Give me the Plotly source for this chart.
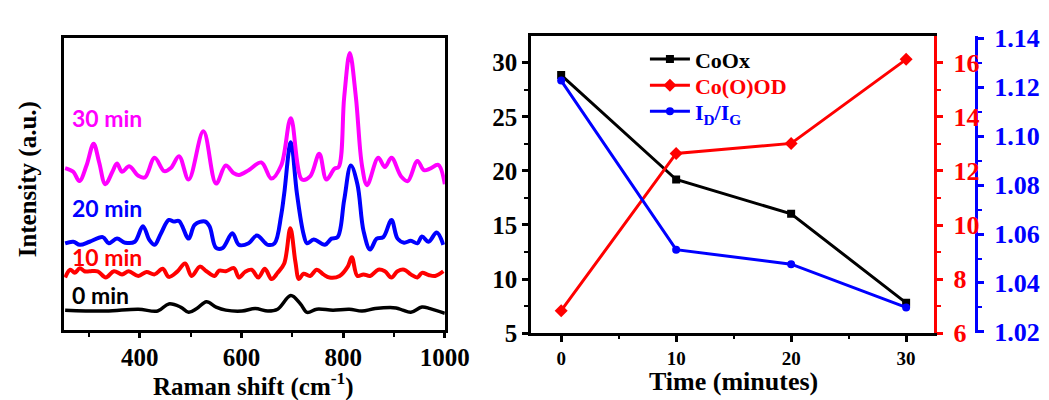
import plotly.graph_objects as go

# ---------------- Raman spectra (left panel) ----------------
raman_labels = ["0 min", "10 min", "20 min", "30 min"]
raman_colors = ["#000000", "#FF0000", "#0000FF", "#FF00FF"]

x_0min = [253, 333, 397, 435, 457, 480, 496, 512, 531, 550, 569, 601, 627, 652, 671, 697, 716, 729,
          748, 780, 812, 837, 863, 904, 917, 933, 955, 971, 1000]
y_0min = [6.5, 6.2, 6.8, 6.2, 8.5, 7.5, 5.8, 7.0, 9.2, 7.5, 6.5, 6.2, 7.0, 6.2, 6.8, 11.2, 8.5, 5.8,
          6.8, 6.5, 6.8, 6.2, 7.0, 7.2, 6.5, 5.8, 7.5, 7.0, 5.5]

x_10min = [253, 263, 272, 282, 291, 301, 317, 333, 349, 365, 378, 397, 413, 429, 445, 457, 473, 489,
           502, 518, 531, 547, 556, 569, 585, 595, 607, 620, 633, 646, 659, 671, 684, 696, 706, 713,
           722, 735, 748, 761, 773, 793, 809, 817, 828, 840, 853, 869, 882, 895, 907, 920, 933, 946,
           955, 968, 981, 997]
y_10min = [17.0, 19.5, 18.5, 20.0, 19.0, 19.0, 19.0, 17.0, 19.0, 18.0, 19.0, 17.5, 18.8, 18.0, 19.8,
           17.2, 18.8, 21.5, 17.5, 20.5, 19.0, 17.5, 19.2, 19.0, 20.0, 17.0, 18.8, 19.5, 17.0, 19.8,
           16.5, 18.5, 21.5, 32.8, 22.0, 16.5, 18.2, 17.5, 19.5, 18.0, 17.0, 17.5, 20.5, 23.5, 17.5,
           18.0, 17.5, 19.5, 19.0, 17.0, 19.0, 19.5, 18.0, 17.0, 18.5, 17.8, 17.5, 19.0]

x_20min = [253, 269, 282, 301, 327, 339, 355, 371, 390, 406, 419, 429, 441, 457, 467, 477, 496, 508,
           528, 537, 550, 563, 582, 595, 614, 630, 652, 665, 678, 684, 697, 709, 722, 729, 742, 764,
           777, 789, 802, 815, 828, 840, 853, 866, 879, 895, 907, 920, 933, 946, 955, 968, 984, 997]
y_20min = [28.0, 28.5, 27.5, 28.5, 30.0, 28.0, 29.5, 28.2, 28.5, 33.5, 29.0, 27.5, 31.0, 35.5, 35.0,
           35.2, 29.5, 34.0, 35.0, 33.5, 26.5, 26.5, 31.2, 27.5, 28.0, 30.5, 27.5, 28.0, 37.0, 44.0,
           60.5, 44.0, 31.0, 28.0, 29.2, 27.5, 29.5, 30.0, 42.0, 53.0, 47.0, 32.0, 26.0, 29.5, 30.0,
           35.5, 29.5, 28.2, 28.8, 28.0, 30.2, 28.5, 31.5, 27.5]

x_30min = [253, 269, 281, 295, 309, 320, 332, 346, 355, 365, 379, 397, 410, 429, 448, 461, 477, 496,
           525, 550, 569, 585, 595, 614, 639, 659, 678, 697, 719, 735, 753, 767, 783, 791, 802, 813,
           825, 837, 847, 869, 882, 895, 914, 927, 946, 959, 971, 987, 1000]
y_30min = [52.2, 51.0, 48.0, 53.0, 60.0, 54.0, 47.0, 51.0, 53.7, 51.0, 52.8, 49.7, 49.2, 55.5, 51.2,
           52.2, 56.0, 48.5, 64.0, 47.2, 53.0, 50.5, 50.0, 51.5, 54.0, 48.8, 53.0, 68.2, 48.5, 49.5,
           56.8, 48.5, 52.0, 52.5, 75.0, 89.2, 75.0, 53.0, 46.7, 55.5, 52.5, 55.5, 49.5, 48.0, 54.5,
           51.5, 52.0, 53.2, 47.0]

raman_x = [x_0min, x_10min, x_20min, x_30min]
raman_y = [y_0min, y_10min, y_20min, y_30min]

# ---------------- Time series (right panel) ----------------
time_min = [0, 10, 20, 30]
coox = [28.85, 19.2, 16.03, 7.8]
coood = [6.83, 12.65, 13.02, 16.13]
id_ig = [1.1227, 1.0536, 1.0477, 1.0300]

SERIF = "Liberation Serif"
fig = go.Figure()

for xs, ys, col, lab in zip(raman_x, raman_y, raman_colors, raman_labels):
    fig.add_trace(go.Scatter(x=xs, y=ys, mode="lines",
                             line=dict(color=col, width=3.5 if col == "#000000" else 4, shape="spline", smoothing=1.0),
                             xaxis="x", yaxis="y", showlegend=False, name=lab))

fig.add_trace(go.Scatter(x=time_min, y=coox, mode="lines+markers", name="CoOx", legend="legend",
                         line=dict(color="#000000", width=3), marker=dict(symbol="square", size=8, color="#000000"),
                         xaxis="x2", yaxis="y2"))
fig.add_trace(go.Scatter(x=time_min, y=coood, mode="lines+markers", name="Co(O)OD", legend="legend2",
                         line=dict(color="#FF0000", width=3), marker=dict(symbol="diamond", size=10, color="#FF0000"),
                         xaxis="x2", yaxis="y3"))
fig.add_trace(go.Scatter(x=time_min, y=id_ig, mode="lines+markers", name="I<sub>D</sub>/I<sub>G</sub>",
                         legend="legend3",
                         line=dict(color="#0000FF", width=3), marker=dict(symbol="circle", size=8, color="#0000FF"),
                         xaxis="x2", yaxis="y4"))

tickfont_big = dict(family=SERIF, size=25, color="#000000", weight="bold")


def leg(ypx, col):
    return dict(x=0.622, y=1 - ypx / 400, xanchor="left", yanchor="middle", bgcolor="rgba(0,0,0,0)",
                font=dict(family=SERIF, size=22, color=col, weight="bold"), itemwidth=40)


fig.update_layout(
    width=1049, height=400,
    margin=dict(l=0, r=0, t=0, b=0),
    paper_bgcolor="white", plot_bgcolor="white",
    showlegend=True,
    legend=leg(43, "#000000"),
    legend2=leg(71, "#FF0000"),
    legend3=leg(99, "#0000FF"),
    xaxis=dict(domain=[0.0548, 0.4266], range=[251, 1000], anchor="y",
               showline=True, linecolor="black", linewidth=3, mirror=True,
               showgrid=False, zeroline=False,
               tickmode="array", tickvals=[400, 600, 800, 1000], ticks="outside", ticklen=5, tickwidth=2.5,
               tickcolor="black", tickfont=tickfont_big, ticklabelstandoff=-2,
               minor=dict(tickvals=[300, 500, 700, 900], ticks="outside", ticklen=4, tickwidth=2, tickcolor="black")),
    yaxis=dict(domain=[0.1675, 0.949], range=[0, 94], anchor="x",
               showline=True, linecolor="black", linewidth=3, mirror=True,
               showgrid=False, zeroline=False, showticklabels=False, ticks=""),
    xaxis2=dict(domain=[0.511, 0.9047], range=[-2.6, 32.46], anchor="y2",
                showline=True, linecolor="black", linewidth=3, mirror=True,
                showgrid=False, zeroline=False,
                tickmode="array", tickvals=[0, 10, 20, 30], ticks="outside", ticklen=6, tickwidth=2.5,
                tickcolor="black", tickfont=dict(family=SERIF, size=19, color="#000000", weight="bold"),
                minor=dict(tickvals=[5, 15, 25], ticks="outside", ticklen=3, tickwidth=2, tickcolor="black")),
    yaxis2=dict(domain=[0.16, 0.955], range=[5, 32.48], anchor="x2",
                showline=True, linecolor="black", linewidth=3,
                showgrid=False, zeroline=False,
                tickmode="array", tickvals=[5, 10, 15, 20, 25, 30], ticks="outside", ticklen=6, tickwidth=2.5,
                tickcolor="black", tickfont=tickfont_big,
                minor=dict(tickvals=[7.5, 12.5, 17.5, 22.5, 27.5], ticks="outside", ticklen=4, tickwidth=2,
                           tickcolor="black")),
    yaxis3=dict(overlaying="y2", side="right", anchor="x2", range=[6, 17.0],
                showline=True, linecolor="#FF0000", linewidth=3,
                showgrid=False, zeroline=False,
                tickmode="array", tickvals=[6, 8, 10, 12, 14, 16], ticks="outside", ticklen=6, tickwidth=2.5,
                tickcolor="#FF0000", tickfont=dict(family=SERIF, size=26, color="#FF0000", weight="bold"),
                ticklabelstandoff=5,
                minor=dict(tickvals=[7, 9, 11, 13, 15], ticks="outside", ticklen=4, tickwidth=2, tickcolor="#FF0000")),
    yaxis4=dict(overlaying="y2", side="right", anchor="free", position=0.9454, range=[1.0195, 1.1410],
                showline=True, linecolor="#0000FF", linewidth=3,
                showgrid=False, zeroline=False,
                tickmode="array", tickvals=[1.02, 1.04, 1.06, 1.08, 1.10, 1.12, 1.14],
                ticktext=["1.02", "1.04", "1.06", "1.08", "1.10", "1.12", "1.14"],
                ticks="outside", ticklen=6, tickwidth=2.5,
                tickcolor="#0000FF", tickfont=dict(family=SERIF, size=26, color="#0000FF", weight="bold"),
                ticklabelstandoff=5,
                minor=dict(tickvals=[1.03, 1.05, 1.07, 1.09, 1.11, 1.13], ticks="outside", ticklen=4, tickwidth=2,
                           tickcolor="#0000FF")),
)

annots = []
label_y = {"30 min": 106, "20 min": 202, "10 min": 255, "0 min": 295}
for lab, col in zip(raman_labels, raman_colors):
    annots.append(dict(text=lab, x=64 / 1049, y=1 - label_y[lab] / 400, xref="paper", yref="paper",
                       xanchor="left", yanchor="middle", showarrow=False,
                       font=dict(family="Lato", size=23, color=col, weight="bold")))
annots.append(dict(text="Raman shift (cm<sup>-1</sup>)", x=252 / 1049, y=1 - 391 / 400, xref="paper", yref="paper",
                   xanchor="center", yanchor="middle", showarrow=False,
                   font=dict(family=SERIF, size=25, color="#000000", weight="bold")))
annots.append(dict(text="Intensity (a.u.)", x=20 / 1049, y=1 - 172 / 400, xref="paper", yref="paper",
                   xanchor="center", yanchor="middle", showarrow=False, textangle=-90,
                   font=dict(family=SERIF, size=25, color="#000000", weight="bold")))
annots.append(dict(text="Time (minutes)", x=743 / 1049, y=1 - 388 / 400, xref="paper", yref="paper",
                   xanchor="center", yanchor="middle", showarrow=False,
                   font=dict(family=SERIF, size=26, color="#000000", weight="bold")))
fig.update_layout(annotations=annots)

fig.write_html("out.html")
